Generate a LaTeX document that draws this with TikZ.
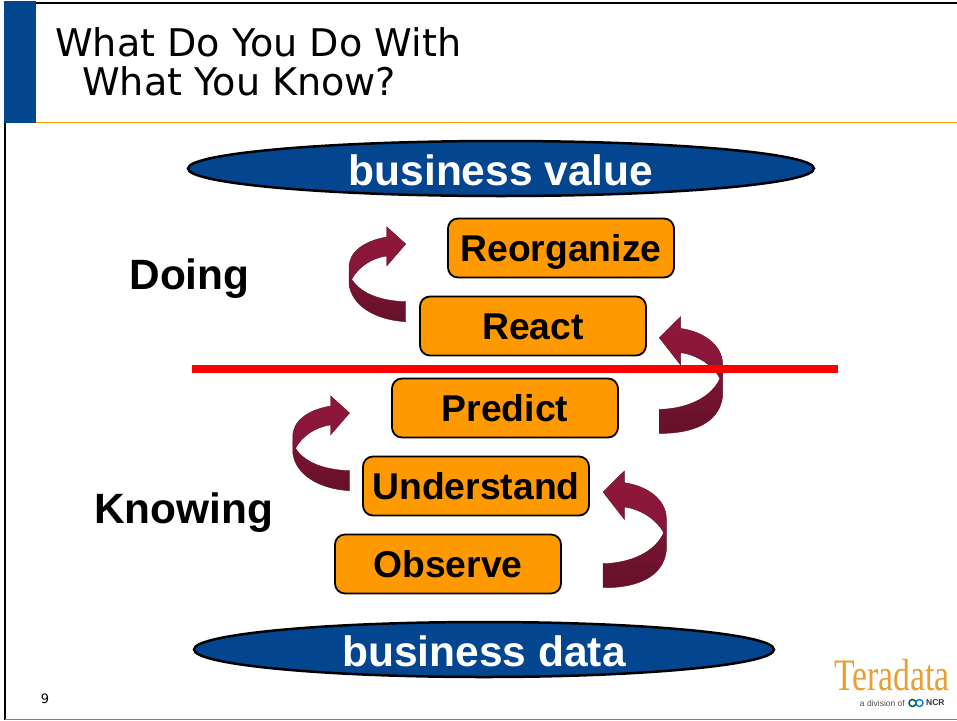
\documentclass[tikz,border=0pt]{standalone}
\usepackage{fontspec}
\setmainfont{Liberation Sans}
\newfontfamily\titlefont{DejaVu Sans}
\newfontfamily\logofont{Liberation Serif}
\usetikzlibrary{shapes.geometric}
\definecolor{barblue}{HTML}{03468F}
\definecolor{boxorange}{HTML}{FF9900}
\definecolor{logoorange}{HTML}{E8A033}
\definecolor{curltop}{HTML}{8F1839}
\definecolor{curlmid}{HTML}{85163A}
\definecolor{curlfold}{HTML}{7A1634}
\definecolor{curlbot}{HTML}{66102A}
\tikzset{%
  stepbox/.style  = {shape=rectangle, rounded corners=10pt,%
                     draw, line width=1.8pt, fill=boxorange,%
                     minimum width=226pt, minimum height=59pt,%
                     text height=30pt, text depth=3pt,%
                     inner sep=0pt, font=\fontsize{37.3}{40}\bfseries\selectfont},%
  valueoval/.style = {shape=ellipse, draw, line width=2.5pt, fill=barblue,%
                     text=white, inner sep=0pt, text height=35pt, text depth=2pt,%
                     font=\fontsize{42.5}{44}\bfseries\selectfont},%
  sidelabel/.style = {inner sep=0pt, font=\fontsize{42.4}{44}\bfseries\selectfont},%
  titleline/.style = {anchor=base west, inner sep=0pt, font=\titlefont\fontsize{38.1}{40}\selectfont},%
  curlup/.style   = {top color=curltop, bottom color=curlmid, draw=curlbot, line width=.4pt},%
  curldown/.style = {top color=curlfold, bottom color=curlbot, draw=curlbot, line width=.4pt},%
  leftcurl/.pic   = {
    \shadedraw[curldown] (-56.7,30) -- (-56.7,40) .. controls (-54,62) and (-30,76) .. (0,77.7)
      -- (0,57.7) .. controls (-22,57) and (-44,51) .. (-54,35.3) -- cycle;
    \shadedraw[curlup] (0,0) -- (-19,-17.3) -- (-19,-7) .. controls (-42,-3) and (-57,8) .. (-56.7,24)
      -- (-56.7,30) -- (-54,35.3) .. controls (-48,24) and (-35,14) .. (-19,12) -- (-19,22) -- cycle;
  },%
  rightcurl/.pic  = {
    \shadedraw[curldown] (63.3,36) -- (63.3,59) .. controls (60,85) and (34,96) .. (0,95.7)
      -- (0,71.7) .. controls (28,71) and (52,60) .. (60.7,40.7) -- cycle;
    \shadedraw[curlup] (0,0) -- (21.3,-21) -- (21.3,-9.3) .. controls (45,-6) and (63,8) .. (63.3,26)
      -- (63.3,36) -- (60.7,40.7) .. controls (54,28) and (38,17) .. (21.3,15) -- (21.3,27.3) -- cycle;
  }%
}
\begin{document}
\begin{tikzpicture}[x=1pt, y=-1pt]
                  \useasboundingbox (0,0) rectangle (957,720);
                  % frame and title bar
                  \draw[line width=2.5pt] (5,3) -- (957,3);
                  \draw[line width=2pt] (5,3) -- (5,720);
                  \draw[gray, line width=1pt] (5,719.5) -- (957,719.5);
                  \fill[barblue] (4,1) rectangle (36,123);
                  \draw[boxorange, line width=1.5pt] (36,122.5) -- (957,122.5);
                  \node[titleline] (title1) at (55,56) {What Do You Do With};
                  \node[titleline] (title2) at (82,95) {What You Know?};
                  % ovals
                  \node[valueoval, minimum width=626pt, minimum height=55pt] (value) at (501,168.5) {business value};
                  \node[valueoval, minimum width=580pt, minimum height=55pt] (data) at (484,649.5) {business data};
                  % steps
                  \node[stepbox] (reorganize) at (561,248) {Reorganize};
                  \node[stepbox] (react) at (533,326) {React};
                  \node[stepbox] (predict) at (505,408) {Predict};
                  \node[stepbox] (understand) at (476,486) {Understand};
                  \node[stepbox] (observe) at (448,564) {Observe};
                  % curved arrows
                  \pic at (405.7,244) {leftcurl};
                  \pic at (349.5,413) {leftcurl};
                  \pic at (659.3,337.7) {rightcurl};
                  \pic at (603,492) {rightcurl};
                  % divider
                  \coordinate (divleft) at (192,369);
                  \coordinate (divright) at (838,369);
                  \draw[red, line width=8pt] (divleft) -- (divright);
                  \node[sidelabel] (doing) at (189.5,279) {Doing};
                  \node[sidelabel] (knowing) at (183.5,513) {Knowing};
                  \node[inner sep=0pt, font=\titlefont\fontsize{13}{15}\selectfont] (page) at (45,699) {9};
                  % logo
                  \node[inner sep=0pt, text=logoorange, xscale=.75, font=\logofont\fontsize{45}{47}\selectfont] (teradata) at (892,675.5) {Teradata};
                  \node[anchor=east, inner sep=0pt, text=black!70, font=\fontsize{8.5}{10}\selectfont] (division) at (905,703) {a division of};
                  \draw[teal!70!black, line width=1.5pt] (912.5,703) circle (3.5pt);
                  \draw[cyan!70!blue, line width=1.5pt] (919.5,703) circle (3.5pt);
                  \node[anchor=west, inner sep=0pt, text=black!80, font=\fontsize{8.5}{10}\bfseries\selectfont] (ncr) at (926,703) {NCR};
            \end{tikzpicture}
\end{document}
